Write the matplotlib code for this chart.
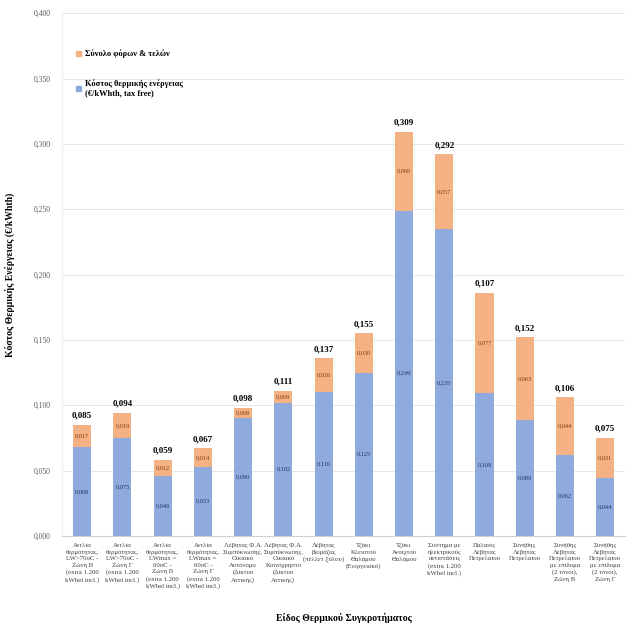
import matplotlib.pyplot as plt
import numpy as np
from matplotlib.patches import Patch
from matplotlib.ticker import FuncFormatter, MultipleLocator

plt.rcParams['font.family'] = ['Liberation Serif', 'DejaVu Serif']

categories = [
    'Αντλία\nθερμότητας,\nLW>70oC -\nΖώνη Β\n(extra 1.200\nkWhel incl.)',
    'Αντλία\nθερμότητας,\nLW>70oC -\nΖώνη Γ\n(extra 1.200\nkWhel incl.)',
    'Αντλία\nθερμότητας,\nLWmax =\n60oC -\nΖώνη Β\n(extra 1.200\nkWhel incl.)',
    'Αντλία\nθερμότητας,\nLWmax =\n60oC -\nΖώνη Γ\n(extra 1.200\nkWhel incl.)',
    'Λέβητας Φ.Α.\nΣυμπύκνωσης,\nΟικιακό\nΑυτόνομο\n(Δίκτυο\nΑττικής)',
    'Λέβητας Φ.Α.\nΣυμπύκνωσης,\nΟικιακό\nΚοινόχρηστο\n(Δίκτυο\nΑττικής)',
    'Λέβητας\nβιομάζας\n(πέλλετ ξύλου)',
    'Τζάκι\nΚλειστού\nΘαλάμου\n(Ενεργειακό)',
    'Τζάκι\nΑνοιχτού\nΘαλάμου',
    'Σύστημα με\nηλεκτρικούς\nαντιστάσεις\n(extra 1.200\nkWhel incl.)',
    'Παλαιός\nΛέβητας\nΠετρελαίου',
    'Συνήθης\nΛέβητας\nΠετρελαίου',
    'Συνήθης\nΛέβητας\nΠετρελαίου\nμε επίδομα\n(2 τόνοι),\nΖώνη Β',
    'Συνήθης\nΛέβητας\nΠετρελαίου\nμε επίδομα\n(2 τόνοι),\nΖώνη Γ',
]
energy_cost = [0.068, 0.075, 0.046, 0.053, 0.090, 0.102, 0.110,
               0.125, 0.249, 0.235, 0.109, 0.089, 0.062, 0.044]
taxes = [0.017, 0.019, 0.012, 0.014, 0.008, 0.009, 0.026,
         0.030, 0.060, 0.057, 0.077, 0.063, 0.044, 0.031]
total_labels = [0.085, 0.094, 0.059, 0.067, 0.098, 0.111, 0.137,
                0.155, 0.309, 0.292, 0.107, 0.152, 0.106, 0.075]

blue = '#8faadc'
orange = '#f4b183'

def comma(v, d=3):
    return f'{v:.{d}f}'.replace('.', ',')

fig = plt.figure(figsize=(6.4, 6.29), dpi=100)
ax = fig.add_axes([0.097, 0.148, 0.88, 0.831])

x = np.arange(len(categories))
w = 0.45
ax.bar(x, energy_cost, w, color=blue, zorder=3)
ax.bar(x, taxes, w, bottom=energy_cost, color=orange, zorder=3)

for i in range(len(categories)):
    b = energy_cost[i]
    t = taxes[i]
    ax.text(x[i], b / 2, comma(b), ha='center', va='center', fontsize=4.6, color='#1f3864', zorder=4)
    ax.text(x[i], b + t / 2, comma(t), ha='center', va='center', fontsize=4.6, color='#843c0c', zorder=4)
    ax.text(x[i], b + t + 0.004, comma(total_labels[i]), ha='center', va='bottom',
            fontsize=6.5, fontweight='bold', zorder=4)

ax.set_xlim(-0.5, len(categories) - 0.5)
ax.set_ylim(0, 0.4)
ax.yaxis.set_major_locator(MultipleLocator(0.05))
ax.yaxis.set_major_formatter(FuncFormatter(lambda v, p: comma(v)))
ax.grid(axis='y', color='#e6e6e6', linewidth=0.7, zorder=0)
ax.set_xticks(x)
ax.set_xticklabels(categories, fontsize=4.9, color='#404040', linespacing=1.4)
ax.tick_params(axis='x', length=0, pad=5)
ax.tick_params(axis='y', length=0, labelsize=5.5, colors='#595959', pad=8)
for s in ['top', 'right']:
    ax.spines[s].set_visible(False)
ax.spines['left'].set_color('#eeeeee')
ax.spines['bottom'].set_color('#d0d0d0')

ax.set_ylabel('Κόστος Θερμικής Ενέργειας (€/kWhth)', fontsize=7, fontweight='bold', labelpad=14)
ax.set_xlabel('Είδος Θερμικού Συγκροτήματος', fontsize=7, fontweight='bold', labelpad=17)

handles = [Patch(color=orange), Patch(color=blue)]
labels = ['Σύνολο φόρων & τελών', 'Κόστος θερμικής ενέργειας\n(€/kWhth, tax free)']
ax.legend(handles, labels, loc='upper left', bbox_to_anchor=(0.012, 0.945), frameon=False,
          handlelength=0.6, handleheight=0.6, handletextpad=0.4, labelspacing=2.6,
          prop={'size': 6, 'weight': 'bold'})

fig.savefig('out.png', dpi=100)
